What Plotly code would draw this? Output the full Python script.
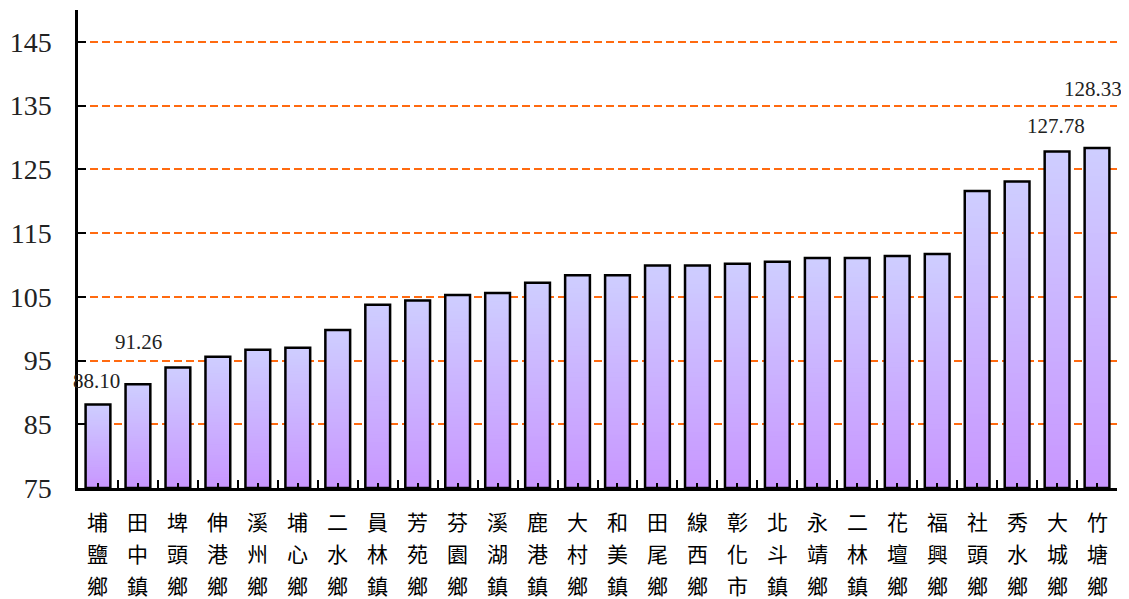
import plotly.graph_objects as go

categories = ["埔鹽鄉", "田中鎮", "埤頭鄉", "伸港鄉", "溪州鄉", "埔心鄉", "二水鄉", "員林鎮",
              "芳苑鄉", "芬園鄉", "溪湖鎮", "鹿港鎮", "大村鄉", "和美鎮", "田尾鄉", "線西鄉",
              "彰化市", "北斗鎮", "永靖鄉", "二林鎮", "花壇鄉", "福興鄉", "社頭鄉", "秀水鄉",
              "大城鄉", "竹塘鄉"]
values = [88.10, 91.26, 93.9, 95.6, 96.7, 97.0, 99.8, 103.75, 104.4, 105.3, 105.6, 107.2,
          108.4, 108.4, 109.9, 109.9, 110.2, 110.5, 111.1, 111.1, 111.4, 111.7, 121.6, 123.1,
          127.78, 128.33]
y_ticks = [75, 85, 95, 105, 115, 125, 135, 145]
labeled = ["埔鹽鄉", "田中鎮", "大城鄉", "竹塘鄉"]

BASE = 75
N = 48
top_rgb = (206, 206, 255)
bot_rgb = (200, 150, 255)

fig = go.Figure()
# gradient: stacked, slightly overlapping segments per bar (bottom purple -> top lavender)
for k in range(N):
    t = (k + 0.5) / N
    col = tuple(round(b + (tp - b) * t) for b, tp in zip(bot_rgb, top_rgb))
    seg = [(v - BASE) / N for v in values]
    mult = 2 if k < N - 1 else 1
    fig.add_trace(go.Bar(
        x=categories, y=[s * mult for s in seg], base=[BASE + s * k for s in seg],
        marker=dict(color="rgb(%d,%d,%d)" % col, line=dict(width=0)),
        hoverinfo="skip", showlegend=False,
    ))
# outline
fig.add_trace(go.Bar(
    x=categories, y=[v - BASE for v in values], base=[BASE] * len(values),
    marker=dict(color="rgba(0,0,0,0)", line=dict(color="black", width=2.5)),
    xaxis="x2", showlegend=False,
))

# value labels
offsets = {"埔鹽鄉": (-1, 24), "田中鎮": (1, 42), "大城鄉": (-1, 26), "竹塘鄉": (-4, 59)}
for c, v in zip(categories, values):
    if c in labeled:
        dx, dy = offsets[c]
        fig.add_annotation(x=c, y=v, text="%.2f" % v, showarrow=False,
                           yanchor="middle", xanchor="center", xshift=dx, yshift=dy,
                           font=dict(family="Liberation Serif", size=21, color="#222"))

# vertical category labels (one character per row)
for c in categories:
    for r, ch in enumerate(c):
        fig.add_annotation(x=c, y=0, yref="paper", text=ch, showarrow=False,
                           xanchor="center", yanchor="middle", yshift=-33 - 32 * r,
                           font=dict(family="Noto Sans CJK TC", size=21, color="black"))

fig.update_layout(
    width=1129, height=599,
    margin=dict(l=67, r=20, t=2, b=119),
    plot_bgcolor="white", paper_bgcolor="white",
    barmode="overlay", bargap=0.38,
    xaxis=dict(type="category", categoryarray=categories,
               ticks="inside", ticklen=5, tickwidth=2, tickcolor="black",
               showticklabels=False,
               showline=True, linecolor="black", linewidth=2.5, showgrid=False,
               range=[-0.5, len(categories) - 0.5]),
    xaxis2=dict(type="category", categoryarray=categories, overlaying="x", matches="x",
                tickson="boundaries", ticks="inside", ticklen=8, tickwidth=2,
                tickcolor="black", showticklabels=False, showgrid=False, showline=False),
    yaxis=dict(range=[75, 150], tickvals=y_ticks, ticks="inside", ticklen=8, tickwidth=2,
               tickcolor="black", showline=True, linecolor="black", linewidth=2.5,
               showgrid=True, gridcolor="#FF6A10", gridwidth=1.8, griddash="8px,4px",
               zeroline=False, ticklabelstandoff=18,
               tickfont=dict(family="Liberation Serif", size=28, color="#222")),
)

fig.write_html("out.html")
